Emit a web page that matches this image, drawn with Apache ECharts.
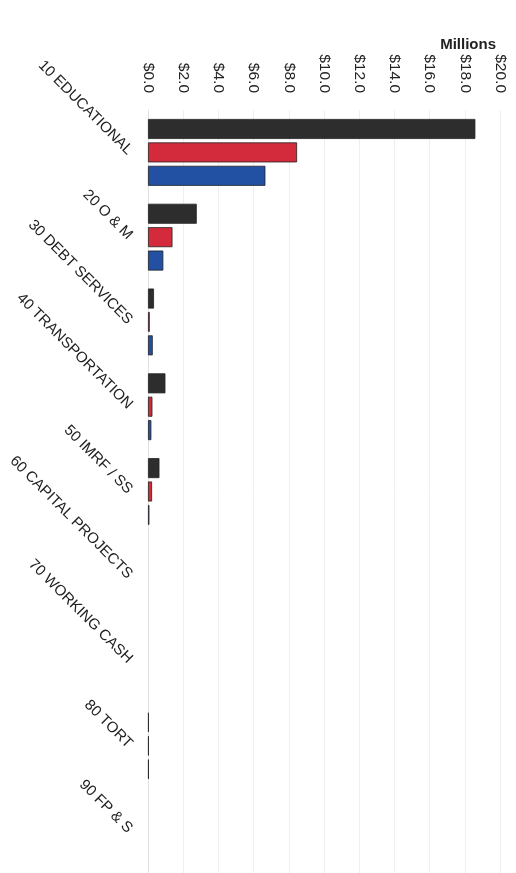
<!DOCTYPE html>
<html>
<head>
<meta charset="utf-8">
<script src="https://cdn.jsdelivr.net/npm/echarts@6/dist/echarts.min.js"></script>
<style>
html,body{margin:0;padding:0;background:#fff;}
#chart{width:516px;height:873px;}
</style>
</head>
<body>
<div id="chart"></div>
<script>
const categories = ["10 EDUCATIONAL","20 O & M","30 DEBT SERVICES","40 TRANSPORTATION","50 IMRF / SS","60 CAPITAL PROJECTS","70 WORKING CASH","80 TORT","90 FP & S"];
const seriesBlack = [18.6, 2.77, 0.34, 0.99, 0.65, 0, 0, 0.05, 0];
const seriesRed   = [8.47, 1.39, 0.10, 0.25, 0.23, 0, 0, 0.05, 0];
const seriesBlue  = [6.67, 0.87, 0.27, 0.19, 0.08, 0, 0, 0.05, 0];
const xTicks = {min: 0, max: 20, interval: 2};

const chart = echarts.init(document.getElementById('chart'), null, {renderer: 'canvas'});
const mk = (name, data, color) => ({
  name, type: 'bar', data: data.map(v => v === 0 ? '-' : v), barWidth: 20, barGap: '17%',
  itemStyle: {color, borderColor: '#222', borderWidth: 0.8},
  silent: true
});
chart.setOption({
  animation: false,
  backgroundColor: '#fff',
  title: {
    text: 'Millions', right: 15, top: 32,
    textStyle: {fontFamily: 'Liberation Sans', fontWeight: 'bold', fontSize: 15, color: '#222'}
  },
  grid: {left: 148, right: 16, top: 110, bottom: -2, containLabel: false},
  xAxis: {
    type: 'value', position: 'top',
    min: xTicks.min, max: xTicks.max, interval: xTicks.interval,
    axisLine: {show: false}, axisTick: {show: false},
    splitLine: {show: true, lineStyle: {color: '#efefef', width: 1}},
    axisLabel: {
      rotate: 90, margin: 17, fontSize: 15.5, color: '#222', fontFamily: 'Liberation Sans',
      formatter: v => '$' + v.toFixed(1)
    }
  },
  yAxis: {
    type: 'category', data: categories, inverse: true,
    axisLine: {show: true, lineStyle: {color: '#e0e0e0'}}, axisTick: {show: false},
    axisLabel: {rotate: -45, margin: 18, fontSize: 15, color: '#222', fontFamily: 'Liberation Sans'}
  },
  series: [
    mk('Black', seriesBlack, '#2d2d2d'),
    mk('Red', seriesRed, '#d42b3c'),
    mk('Blue', seriesBlue, '#2251a3')
  ]
});
</script>
</body>
</html>
